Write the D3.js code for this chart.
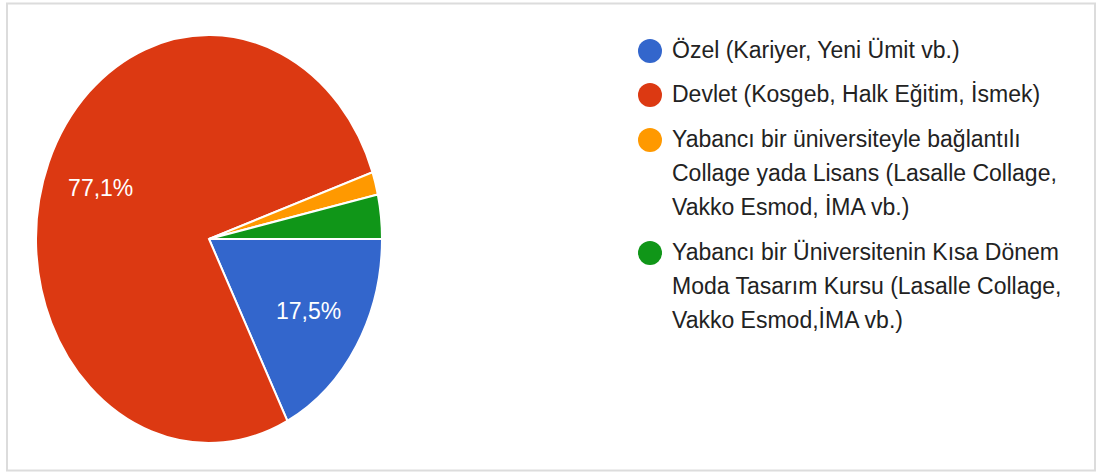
<!DOCTYPE html>
<html lang="tr">
	<head>
		<meta charset="utf-8">
		<script src="https://d3js.org/d3.v7.min.js"></script>
		<style>
			body { margin: 0; background: #fff; }
		</style>
	</head>
	<body>
		<script type="text/javascript">

			// data
			var categories = [
				["Özel (Kariyer, Yeni Ümit vb.)"],
				["Devlet (Kosgeb, Halk Eğitim, İsmek)"],
				["Yabancı bir üniversiteyle bağlantılı", "Collage yada Lisans (Lasalle Collage,", "Vakko Esmod, İMA vb.)"],
				["Yabancı bir Üniversitenin Kısa Dönem", "Moda Tasarım Kursu (Lasalle Collage,", "Vakko Esmod,İMA vb.)"]
			];
			var values = [17.5, 77.1, 1.8, 3.5];
			var pctLabels = ["17,5%", "77,1%", "", ""];
			var colors = ["#3366cc", "#dc3912", "#ff9900", "#109618"];

			var w = 1097;
			var h = 472;

			var svg = d3.select("body")
						.append("svg")
						.attr("width", w)
						.attr("height", h);

			// frame
			svg.append("rect")
				.attr("x", 7)
				.attr("y", 3.5)
				.attr("width", 1088)
				.attr("height", 467)
				.style("fill", "#fff")
				.style("stroke", "#dcdcdc")
				.style("stroke-width", 2);

			// pie (stretched a bit vertically like the picture)
			var cx = 209, cy = 239;
			var r = 173;
			var sy = 204 / 173;

			var pie = d3.pie()
						.sort(null)
						.startAngle(Math.PI / 2)
						.endAngle(Math.PI / 2 + 2 * Math.PI);

			var arc = d3.arc()
						.innerRadius(0)
						.outerRadius(r);

			var labelArc = d3.arc()
						.innerRadius(r * 0.675)
						.outerRadius(r * 0.675);

			var arcs = pie(values);

			var g = svg.append("g")
						.attr("transform", "translate(" + cx + "," + cy + ") scale(1," + sy + ")");

			g.selectAll("path")
				.data(arcs)
				.enter()
				.append("path")
				.attr("d", arc)
				.style("fill", function(d, i) { return colors[i]; })
				.style("stroke", "#fff")
				.style("stroke-width", 2)
				.attr("vector-effect", "non-scaling-stroke");

			svg.selectAll("text.pct")
				.data(arcs)
				.enter()
				.append("text")
				.attr("class", "pct")
				.attr("x", function(d) { return cx + labelArc.centroid(d)[0]; })
				.attr("y", function(d) { return cy + labelArc.centroid(d)[1] * sy; })
				.attr("text-anchor", "middle")
				.attr("dy", "0.36em")
				.style("font-family", "'Liberation Sans', Arial, sans-serif")
				.style("font-size", "23px")
				.style("fill", "#fff")
				.text(function(d, i) { return pctLabels[i]; });

			// legend
			var legendTop = [58, 102, 147, 260];
			var lineH = 34;

			var legend = svg.selectAll("g.legend")
				.data(categories)
				.enter()
				.append("g")
				.attr("class", "legend");

			legend.append("ellipse")
				.attr("cx", 650)
				.attr("cy", function(d, i) { return legendTop[i] - 7; })
				.attr("rx", 12)
				.attr("ry", 12)
				.style("fill", function(d, i) { return colors[i]; });

			legend.each(function(lines, i) {
				var t = d3.select(this).append("text")
					.attr("x", 672)
					.attr("y", legendTop[i])
					.style("font-family", "'Liberation Sans', Arial, sans-serif")
					.style("font-size", "23px")
					.style("fill", "#222");
				lines.forEach(function(line, j) {
					t.append("tspan")
						.attr("x", 672)
						.attr("y", legendTop[i] + j * lineH)
						.text(line);
				});
			});

		</script>
	</body>
</html>
